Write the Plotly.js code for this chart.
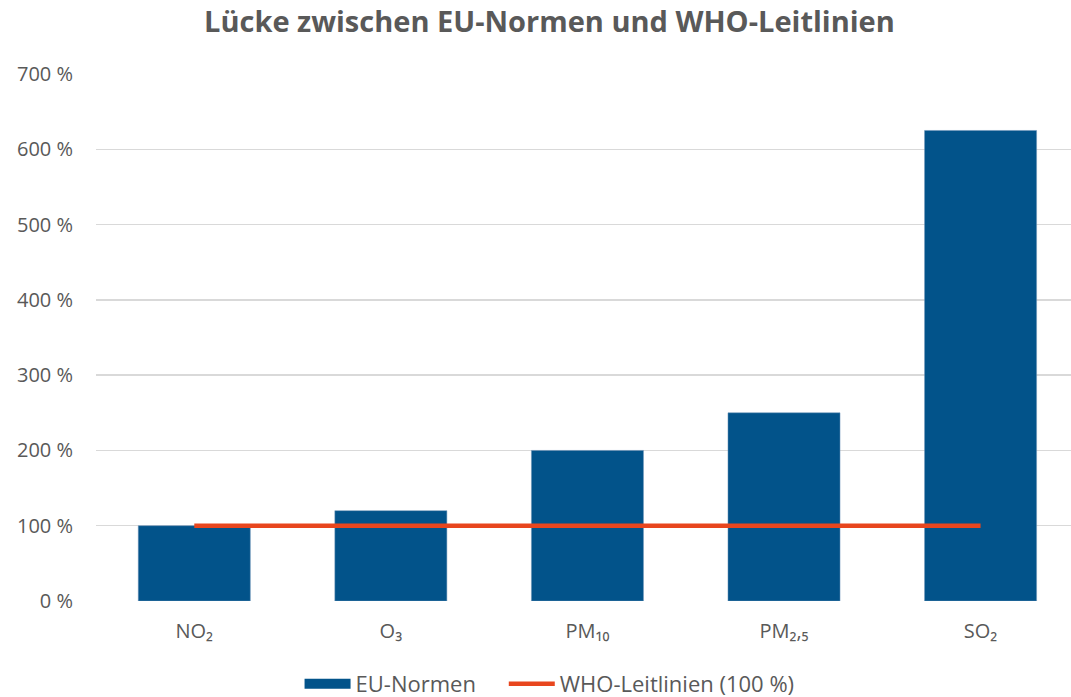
<!DOCTYPE html>
<html><head><meta charset="utf-8">
<script src="https://cdn.plot.ly/plotly-3.0.1.min.js"></script>
<style>html,body{margin:0;padding:0;background:#fff}#chart{width:1071px;height:697px}</style>
</head><body><div id="chart"></div>
<script>
const categories = ["NO₂", "O₃", "PM₁₀", "PM₂,₅", "SO₂"];
const euNormen = [100, 120, 200, 250, 625];
const whoLeitlinien = [100, 100, 100, 100, 100];
const yTicks = [0, 100, 200, 300, 400, 500, 600, 700];

const textColor = "#595959";
const barColor = "#02538A";
const lineColor = "#E8461E";
const fontFam = "'Open Sans', 'Liberation Sans', sans-serif";

const traces = [
  {type: "bar", name: "EU-Normen", x: categories, y: euNormen, showlegend: false,
   marker: {color: barColor, line: {color: "#6f95b8", width: 0.5}}, width: 0.57},
  {type: "scatter", mode: "lines", name: "EU-Normen\u00A0\u00A0\u00A0\u00A0", x: [null], y: [null],
   line: {color: barColor, width: 13}, showlegend: true},
  {type: "scatter", mode: "lines", name: "WHO-Leitlinien (100 %)", x: categories, y: whoLeitlinien,
   line: {color: lineColor, width: 4.5}}
];

const layout = {
  width: 1071, height: 697,
  margin: {l: 96, r: 0, t: 74, b: 96, autoexpand: false},
  paper_bgcolor: "#fff", plot_bgcolor: "#fff",
  font: {family: fontFam, color: textColor, size: 20},
  title: {text: "<b>Lücke zwischen EU-Normen und WHO-Leitlinien</b>", x: 0.513, xanchor: "center", y: 0.968, yanchor: "middle",
          font: {family: fontFam, size: 29, color: textColor}},
  xaxis: {type: "category", range: [-0.5, 4.46], showgrid: false, zeroline: false, showline: false, automargin: false,
          ticks: "", tickfont: {size: 20, color: textColor}, ticklabelstandoff: 16},
  yaxis: {range: [0, 700], tickvals: yTicks, ticktext: yTicks.map(v => v + " %"), automargin: false,
          showgrid: true, gridcolor: "#d9d9d9", gridwidth: 1.5, zeroline: false, showline: false,
          ticks: "", tickfont: {size: 20, color: textColor}, ticklabelstandoff: 22},
  showlegend: true,
  legend: {orientation: "h", xref: "container", yref: "container", x: 0.2797, xanchor: "left", y: 0.0187, yanchor: "middle",
           font: {size: 22, color: textColor}, traceorder: "normal", itemwidth: 46},
  bargap: 0.43
};

Plotly.newPlot("chart", traces, layout, {displayModeBar: false, staticPlot: true});
</script>
</body></html>
